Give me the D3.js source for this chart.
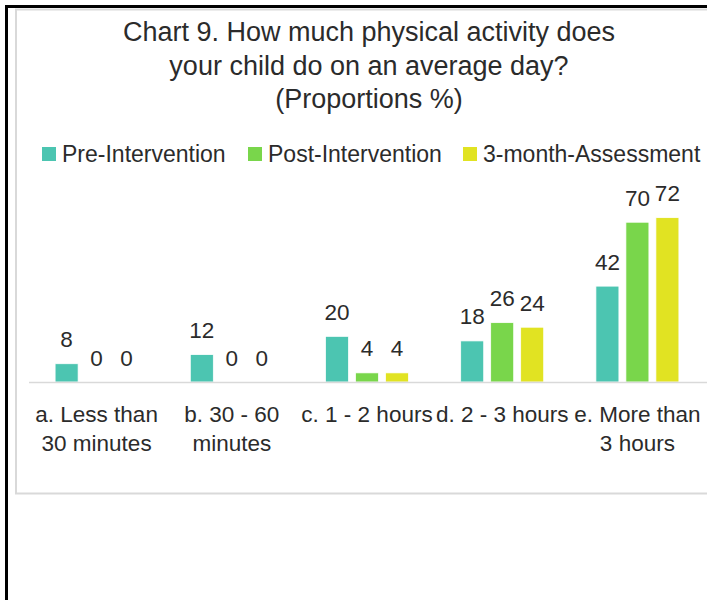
<!DOCTYPE html>
<html>
<head>
<meta charset="utf-8">
<script src="https://cdn.jsdelivr.net/npm/d3@7"></script>
<style>
  body { margin: 0; background: #fff; }
  text { font-family: "Liberation Sans", Arial, sans-serif; fill: #2b2b2b; }
</style>
</head>
<body>
<div id="chart"></div>
<script>
var categories = ["a. Less than 30 minutes", "b. 30 - 60 minutes", "c. 1 - 2 hours", "d. 2 - 3 hours", "e. More than 3 hours"];
var categoryLines = [["a. Less than", "30 minutes"], ["b. 30 - 60", "minutes"], ["c. 1 - 2 hours"], ["d. 2 - 3 hours"], ["e. More than", "3 hours"]];
var seriesNames = ["Pre-Intervention", "Post-Intervention", "3-month-Assessment"];
var preValues = [8, 12, 20, 18, 42];
var postValues = [0, 0, 4, 26, 70];
var followValues = [0, 0, 4, 24, 72];
var titleLines = ["Chart 9. How much physical activity does", "your child do on an average day?", "(Proportions %)"];

drawChart();

function drawChart() {
  var width = 707;
  var height = 600;
  var colors = ["#4cc5b1", "#79d64b", "#e1e322"];
  var series = [preValues, postValues, followValues];

  var svg = d3.select("#chart")
    .append("svg")
    .attr("width", width)
    .attr("height", height);

  // outer black frame (top + left only, the rest is cut off)
  svg.append("rect")
    .attr("x", 5).attr("y", 5)
    .attr("width", width).attr("height", 3)
    .attr("fill", "#000");
  svg.append("rect")
    .attr("x", 5).attr("y", 5)
    .attr("width", 3).attr("height", height)
    .attr("fill", "#000");

  // chart area border
  svg.append("rect")
    .attr("x", 16).attr("y", 9.5)
    .attr("width", width + 20).attr("height", 484)
    .attr("fill", "#fff")
    .attr("stroke", "#d9d9d9")
    .attr("stroke-width", 2);

  svg.append("g")
    .selectAll("text")
    .data(titleLines)
    .enter()
    .append("text")
    .attr("x", 369)
    .attr("y", function(d, i) { return 41 + i * 33.5; })
    .attr("text-anchor", "middle")
    .style("font-size", "27px")
    .text(function(d) { return d; });

  // legend
  var legendX = [42, 248, 463];
  var legend = svg.append("g")
    .selectAll("g")
    .data(seriesNames)
    .enter()
    .append("g")
    .attr("transform", function(d, i) { return "translate(" + legendX[i] + ",147)"; });
  legend.append("rect")
    .attr("width", 14).attr("height", 14)
    .attr("fill", function(d, i) { return colors[i]; });
  legend.append("text")
    .attr("x", 20).attr("y", 15)
    .style("font-size", "23px")
    .text(function(d) { return d; });

  var x0 = d3.scaleBand()
    .domain(categories)
    .range([29, 705]);

  var x1 = d3.scaleBand()
    .domain(seriesNames)
    .range([-41.5, 41.5])
    .paddingInner(0.233);

  var y = d3.scaleLinear()
    .domain([0, 80])
    .range([382, 199.4]);

  var groups = svg.append("g")
    .selectAll("g")
    .data(categories)
    .enter()
    .append("g")
    .attr("transform", function(d) { return "translate(" + (x0(d) + x0.bandwidth() / 2) + ",0)"; });

  groups.selectAll("rect")
    .data(function(d, ci) { return series.map(function(s, si) { return { name: seriesNames[si], value: s[ci], i: si }; }); })
    .enter()
    .append("rect")
    .attr("x", function(d) { return x1(d.name); })
    .attr("y", function(d) { return y(d.value); })
    .attr("width", x1.bandwidth())
    .attr("height", function(d) { return y(0) - y(d.value); })
    .attr("fill", function(d) { return colors[d.i]; })
    .attr("stroke", "#fff")
    .attr("stroke-width", 0.75);

  groups.selectAll("text.val")
    .data(function(d, ci) { return series.map(function(s, si) { return { name: seriesNames[si], value: s[ci] }; }); })
    .enter()
    .append("text")
    .attr("class", "val")
    .attr("x", function(d) { return x1(d.name) + x1.bandwidth() / 2; })
    .attr("y", function(d) { return y(d.value) - 16.5; })
    .attr("text-anchor", "middle")
    .style("font-size", "22.5px")
    .text(function(d) { return d.value; });

  // x axis line
  svg.append("line")
    .attr("x1", 29).attr("x2", width)
    .attr("y1", 382.5).attr("y2", 382.5)
    .style("stroke", "#d9d9d9")
    .style("stroke-width", 1.5);

  var labels = svg.append("g")
    .selectAll("text")
    .data(categories)
    .enter()
    .append("text")
    .attr("text-anchor", "middle")
    .style("font-size", "22.5px")
    .attr("transform", function(d) { return "translate(" + (x0(d) + x0.bandwidth() / 2) + ",422)"; });

  labels.selectAll("tspan")
    .data(function(d, i) { return categoryLines[i]; })
    .enter()
    .append("tspan")
    .attr("x", 0)
    .attr("y", function(d, i) { return i * 29; })
    .text(function(d) { return d; });
}
</script>
</body>
</html>
